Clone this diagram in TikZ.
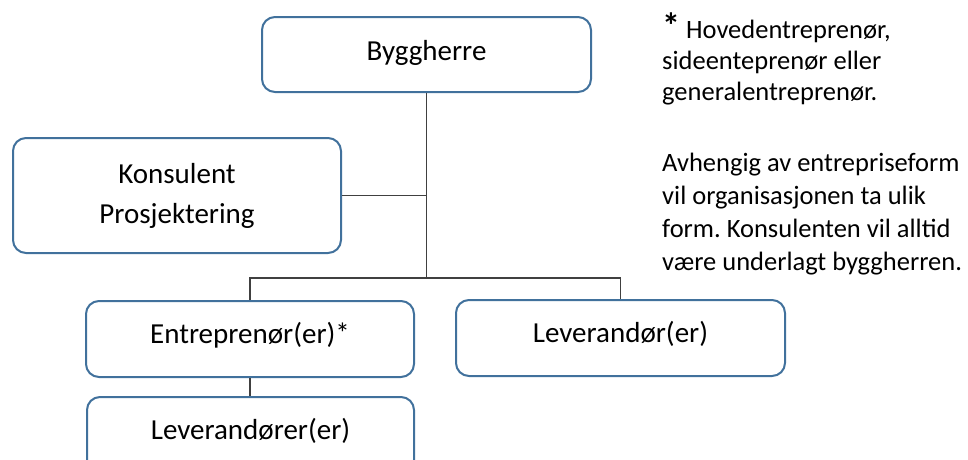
\documentclass[tikz,border=0pt]{standalone}
\usepackage{fontspec}
\setmainfont{Carlito}
\frenchspacing
\definecolor{boxblue}{HTML}{41719C}
\definecolor{wire}{HTML}{404040}
\begin{document}
\begin{tikzpicture}[x=1pt,y=-1pt,
  orgbox/.style={draw=boxblue, line width=2pt, rounded corners=13pt,
    fill=white, inner sep=0pt, font=\fontsize{29}{40}\selectfont,
    text height=20pt, text depth=12pt},
  link/.style={draw=wire, line width=1.4pt},
  note/.style={anchor=base west, inner sep=0pt, align=left,
    font=\fontsize{26.5}{33}\selectfont}]
\useasboundingbox (0,0) rectangle (968,459);
\clip (0,0) rectangle (968,459);

% boxes of the organisation chart
\node[orgbox, minimum width=329pt, minimum height=75pt, text depth=9pt]
  (bygg) at (426.5,54.5) {Byggherre};
\node[orgbox, minimum width=328pt, minimum height=115pt, align=center,
  text height=60pt, text depth=5pt] (kons) at (177,195.5)
  {Konsulent\\Prosjektering};
\node[orgbox, minimum width=328pt, minimum height=76pt]
  (entr) at (250,339) {Entreprenør(er)*};
\node[orgbox, minimum width=329pt, minimum height=76pt]
  (lev) at (620.5,338) {Leverandør(er)};
\node[orgbox, minimum width=327pt, minimum height=76pt]
  (levr) at (250.5,435) {Leverandører(er)};

% connectors
\coordinate (hub) at (bygg.south |- 0,278);
\draw[link] (bygg.south) -- (hub);
\draw[link] (kons.east) -- (kons.east -| bygg.south);
\draw[link] (entr.north) |- (hub) -| (lev.north);
\draw[link] (entr.south) -- (entr.south |- levr.north);

% explanatory notes (anchored at the baseline of their last line)
\node[note, font=\fontsize{26.5}{31}\selectfont] (fotnote) at (662,100)
  {{\fontsize{36}{31}\selectfont\bfseries *} Hovedentreprenør,\\
   sideenteprenør eller\\
   generalentreprenør.};
\node[note] (merknad) at (662,270.5)
  {Avhengig av entrepriseform\\
   vil organisasjonen ta ulik\\
   form. Konsulenten vil alltid\\
   være underlagt byggherren.};
\end{tikzpicture}
\end{document}
